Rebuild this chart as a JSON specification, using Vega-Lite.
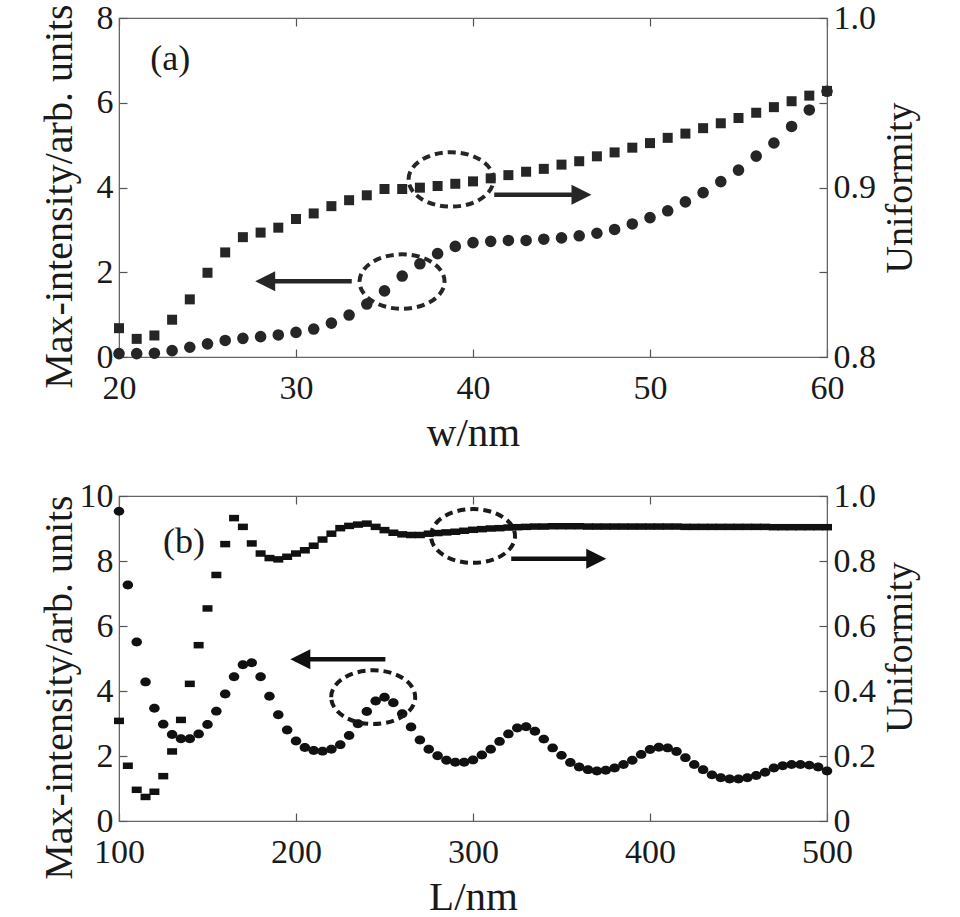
{
  "$schema": "https://vega.github.io/schema/vega-lite/v6.json",
  "background": "white",
  "padding": {"left": 38, "top": 0, "right": 5, "bottom": 0},
  "config": {
    "font": "Liberation Serif",
    "view": {"stroke": "#666", "strokeWidth": 1.2},
    "axis": {"labelFont": "Liberation Serif", "titleFont": "Liberation Serif", "labelFontSize": 34, "titleFontSize": 38, "titleFontWeight": "normal", "labelColor": "#1a1a1a", "titleColor": "#1a1a1a", "grid": false, "tickColor": "#555", "domainColor": "#666", "tickSize": -8, "tickWidth": 1.2, "labelPadding": 14, "labelFlush": false, "labelOverlap": false},
    "axisBottom": {"labelPadding": 22, "titleFontSize": 41, "titlePadding": 8},
    "axisLeft": {"titleFontSize": 40, "minExtent": 40, "titlePadding": 0},
    "axisRight": {"titleFontSize": 38, "minExtent": 50},
    "concat": {"spacing": 24}
  },
  "datasets": {
    "aCircle": [
      {"w": 20, "v": 0.08}, {"w": 21, "v": 0.08}, {"w": 22, "v": 0.09}, {"w": 23, "v": 0.15}, {"w": 24, "v": 0.23},
      {"w": 25, "v": 0.31}, {"w": 26, "v": 0.39}, {"w": 27, "v": 0.44}, {"w": 28, "v": 0.48}, {"w": 29, "v": 0.52},
      {"w": 30, "v": 0.58}, {"w": 31, "v": 0.66}, {"w": 32, "v": 0.8}, {"w": 33, "v": 0.99}, {"w": 34, "v": 1.25},
      {"w": 35, "v": 1.56}, {"w": 36, "v": 1.91}, {"w": 37, "v": 2.2}, {"w": 38, "v": 2.44}, {"w": 39, "v": 2.61},
      {"w": 40, "v": 2.7}, {"w": 41, "v": 2.73}, {"w": 42, "v": 2.75}, {"w": 43, "v": 2.75}, {"w": 44, "v": 2.78},
      {"w": 45, "v": 2.81}, {"w": 46, "v": 2.86}, {"w": 47, "v": 2.92}, {"w": 48, "v": 3.01}, {"w": 49, "v": 3.14},
      {"w": 50, "v": 3.29}, {"w": 51, "v": 3.45}, {"w": 52, "v": 3.66}, {"w": 53, "v": 3.88}, {"w": 54, "v": 4.14},
      {"w": 55, "v": 4.41}, {"w": 56, "v": 4.74}, {"w": 57, "v": 5.05}, {"w": 58, "v": 5.44}, {"w": 59, "v": 5.83},
      {"w": 60, "v": 6.27}
    ],
    "aSquare": [
      {"w": 20, "u": 0.817}, {"w": 21, "u": 0.8107}, {"w": 22, "u": 0.8127}, {"w": 23, "u": 0.822}, {"w": 24, "u": 0.834},
      {"w": 25, "u": 0.8497}, {"w": 26, "u": 0.8617}, {"w": 27, "u": 0.8707}, {"w": 28, "u": 0.8734}, {"w": 29, "u": 0.8763},
      {"w": 30, "u": 0.8814}, {"w": 31, "u": 0.8847}, {"w": 32, "u": 0.889}, {"w": 33, "u": 0.8925}, {"w": 34, "u": 0.8954},
      {"w": 35, "u": 0.8991}, {"w": 36, "u": 0.8991}, {"w": 37, "u": 0.8999}, {"w": 38, "u": 0.9009}, {"w": 39, "u": 0.9022},
      {"w": 40, "u": 0.9036}, {"w": 41, "u": 0.9054}, {"w": 42, "u": 0.9073}, {"w": 43, "u": 0.9093}, {"w": 44, "u": 0.911},
      {"w": 45, "u": 0.9135}, {"w": 46, "u": 0.9155}, {"w": 47, "u": 0.9184}, {"w": 48, "u": 0.9207}, {"w": 49, "u": 0.9235},
      {"w": 50, "u": 0.9262}, {"w": 51, "u": 0.9293}, {"w": 52, "u": 0.9318}, {"w": 53, "u": 0.935}, {"w": 54, "u": 0.9379},
      {"w": 55, "u": 0.941}, {"w": 56, "u": 0.9441}, {"w": 57, "u": 0.9474}, {"w": 58, "u": 0.9509}, {"w": 59, "u": 0.9542},
      {"w": 60, "u": 0.957}
    ],
    "aEllipse": [{"w": 38.76, "v": 4.19}, {"w": 35.99, "v": 1.78}],
    "aArrow": [{"w": 41.2, "w2": 46.13, "v": 3.83, "dir": "right"}, {"w": 33.15, "w2": 28.26, "v": 1.79, "dir": "left"}],
    "aLabel": [{"w": 22.9, "v": 7.03, "t": "(a)"}],
    "bCircle": [
      {"L": 100, "v": 9.53}, {"L": 105, "v": 7.26}, {"L": 110, "v": 5.51}, {"L": 115, "v": 4.28}, {"L": 120, "v": 3.47},
      {"L": 125, "v": 2.98}, {"L": 130, "v": 2.66}, {"L": 135, "v": 2.53}, {"L": 140, "v": 2.53}, {"L": 145, "v": 2.68},
      {"L": 150, "v": 2.97}, {"L": 155, "v": 3.38}, {"L": 160, "v": 3.91}, {"L": 165, "v": 4.44}, {"L": 170, "v": 4.81},
      {"L": 175, "v": 4.87}, {"L": 180, "v": 4.44}, {"L": 185, "v": 3.84}, {"L": 190, "v": 3.27}, {"L": 195, "v": 2.8},
      {"L": 200, "v": 2.46}, {"L": 205, "v": 2.26}, {"L": 210, "v": 2.17}, {"L": 215, "v": 2.15}, {"L": 220, "v": 2.21},
      {"L": 225, "v": 2.35}, {"L": 230, "v": 2.63}, {"L": 235, "v": 2.99}, {"L": 240, "v": 3.37}, {"L": 245, "v": 3.69},
      {"L": 250, "v": 3.81}, {"L": 255, "v": 3.64}, {"L": 260, "v": 3.3}, {"L": 265, "v": 2.89}, {"L": 270, "v": 2.49},
      {"L": 275, "v": 2.21}, {"L": 280, "v": 2.01}, {"L": 285, "v": 1.87}, {"L": 290, "v": 1.81}, {"L": 295, "v": 1.81},
      {"L": 300, "v": 1.88}, {"L": 305, "v": 2.03}, {"L": 310, "v": 2.21}, {"L": 315, "v": 2.45}, {"L": 320, "v": 2.68},
      {"L": 325, "v": 2.86}, {"L": 330, "v": 2.9}, {"L": 335, "v": 2.76}, {"L": 340, "v": 2.52}, {"L": 345, "v": 2.25},
      {"L": 350, "v": 2.02}, {"L": 355, "v": 1.8}, {"L": 360, "v": 1.66}, {"L": 365, "v": 1.58}, {"L": 370, "v": 1.54},
      {"L": 375, "v": 1.56}, {"L": 380, "v": 1.63}, {"L": 385, "v": 1.74}, {"L": 390, "v": 1.87}, {"L": 395, "v": 2.05},
      {"L": 400, "v": 2.2}, {"L": 405, "v": 2.27}, {"L": 410, "v": 2.25}, {"L": 415, "v": 2.14}, {"L": 420, "v": 1.95},
      {"L": 425, "v": 1.74}, {"L": 430, "v": 1.58}, {"L": 435, "v": 1.42}, {"L": 440, "v": 1.33}, {"L": 445, "v": 1.29},
      {"L": 450, "v": 1.29}, {"L": 455, "v": 1.33}, {"L": 460, "v": 1.4}, {"L": 465, "v": 1.5}, {"L": 470, "v": 1.63},
      {"L": 475, "v": 1.7}, {"L": 480, "v": 1.74}, {"L": 485, "v": 1.74}, {"L": 490, "v": 1.72}, {"L": 495, "v": 1.66},
      {"L": 500, "v": 1.54}
    ],
    "bSquare": [
      {"L": 100, "u": 0.308}, {"L": 105, "u": 0.17}, {"L": 110, "u": 0.096}, {"L": 115, "u": 0.074}, {"L": 120, "u": 0.09},
      {"L": 125, "u": 0.138}, {"L": 130, "u": 0.214}, {"L": 135, "u": 0.311}, {"L": 140, "u": 0.422}, {"L": 145, "u": 0.541},
      {"L": 150, "u": 0.654}, {"L": 155, "u": 0.757}, {"L": 160, "u": 0.852}, {"L": 165, "u": 0.932}, {"L": 170, "u": 0.905},
      {"L": 175, "u": 0.854}, {"L": 180, "u": 0.823}, {"L": 185, "u": 0.809}, {"L": 190, "u": 0.805}, {"L": 195, "u": 0.813},
      {"L": 200, "u": 0.823}, {"L": 205, "u": 0.833}, {"L": 210, "u": 0.847}, {"L": 215, "u": 0.866}, {"L": 220, "u": 0.884},
      {"L": 225, "u": 0.901}, {"L": 230, "u": 0.908}, {"L": 235, "u": 0.912}, {"L": 240, "u": 0.915}, {"L": 245, "u": 0.905},
      {"L": 250, "u": 0.895}, {"L": 255, "u": 0.887}, {"L": 260, "u": 0.882}, {"L": 265, "u": 0.88}, {"L": 270, "u": 0.88},
      {"L": 275, "u": 0.884}, {"L": 280, "u": 0.886}, {"L": 285, "u": 0.888}, {"L": 290, "u": 0.89}, {"L": 295, "u": 0.893},
      {"L": 300, "u": 0.896}, {"L": 305, "u": 0.898}, {"L": 310, "u": 0.9}, {"L": 315, "u": 0.901}, {"L": 320, "u": 0.903},
      {"L": 325, "u": 0.904}, {"L": 330, "u": 0.905}, {"L": 335, "u": 0.906}, {"L": 340, "u": 0.906}, {"L": 345, "u": 0.907},
      {"L": 350, "u": 0.907}, {"L": 355, "u": 0.907}, {"L": 360, "u": 0.907}, {"L": 365, "u": 0.906}, {"L": 370, "u": 0.906},
      {"L": 375, "u": 0.906}, {"L": 380, "u": 0.906}, {"L": 385, "u": 0.906}, {"L": 390, "u": 0.906}, {"L": 395, "u": 0.906},
      {"L": 400, "u": 0.906}, {"L": 405, "u": 0.906}, {"L": 410, "u": 0.906}, {"L": 415, "u": 0.906}, {"L": 420, "u": 0.905},
      {"L": 425, "u": 0.905}, {"L": 430, "u": 0.905}, {"L": 435, "u": 0.905}, {"L": 440, "u": 0.905}, {"L": 445, "u": 0.905},
      {"L": 450, "u": 0.905}, {"L": 455, "u": 0.905}, {"L": 460, "u": 0.905}, {"L": 465, "u": 0.905}, {"L": 470, "u": 0.904},
      {"L": 475, "u": 0.904}, {"L": 480, "u": 0.904}, {"L": 485, "u": 0.904}, {"L": 490, "u": 0.904}, {"L": 495, "u": 0.904},
      {"L": 500, "u": 0.904}
    ],
    "bEllipse": [{"L": 300, "v": 8.77}, {"L": 243.6, "v": 3.81}],
    "bArrow": [{"L": 321.6, "L2": 369.65, "v": 8.07, "dir": "right"}, {"L": 250.5, "L2": 202.45, "v": 4.98, "dir": "left"}],
    "bLabel": [{"L": 136.7, "v": 8.58, "t": "(b)"}]
  },
  "vconcat": [
    {
      "width": 708,
      "height": 339,
      "layer": [
        {
          "layer": [
            {
              "data": {"name": "aCircle"},
              "mark": {"type": "point", "shape": "circle", "filled": true, "size": 135, "color": "#262626", "opacity": 1},
              "encoding": {
                "x": {"field": "w", "type": "quantitative", "scale": {"domain": [20, 60], "nice": false, "zero": false}, "axis": {"title": "w/nm", "values": [20, 30, 40, 50, 60]}},
                "y": {"field": "v", "type": "quantitative", "scale": {"domain": [0, 8], "nice": false}, "axis": {"title": "Max-intensity/arb. units", "values": [0, 2, 4, 6, 8], "titleY": 178}}
              }
            },
            {
              "data": {"name": "aEllipse"},
              "mark": {"type": "point", "shape": "M-1,0C-1,-0.3535 -0.5523,-0.64 0,-0.64C0.5523,-0.64 1,-0.3535 1,0C1,0.3535 0.5523,0.64 0,0.64C-0.5523,0.64 -1,0.3535 -1,0Z", "filled": false, "size": 7225, "color": "#262626", "strokeWidth": 4, "strokeDash": [8, 5], "opacity": 1},
              "encoding": {
                "x": {"field": "w", "type": "quantitative", "scale": {"domain": [20, 60], "nice": false, "zero": false}, "axis": {"title": "w/nm", "values": [20, 30, 40, 50, 60]}},
                "y": {"field": "v", "type": "quantitative", "scale": {"domain": [0, 8], "nice": false}, "axis": {"title": "Max-intensity/arb. units", "values": [0, 2, 4, 6, 8], "titleY": 178}}
              }
            },
            {
              "data": {"name": "aArrow"},
              "mark": {"type": "rule", "color": "#262626", "strokeWidth": 4.5},
              "encoding": {
                "x": {"field": "w", "type": "quantitative", "scale": {"domain": [20, 60], "nice": false, "zero": false}, "axis": {"title": "w/nm", "values": [20, 30, 40, 50, 60]}},
                "x2": {"field": "w2"},
                "y": {"field": "v", "type": "quantitative", "scale": {"domain": [0, 8], "nice": false}, "axis": {"title": "Max-intensity/arb. units", "values": [0, 2, 4, 6, 8], "titleY": 178}}
              }
            },
            {
              "data": {"name": "aArrow"},
              "mark": {"type": "point", "filled": true, "size": 400, "color": "#262626", "opacity": 1},
              "encoding": {
                "x": {"field": "w2", "type": "quantitative", "scale": {"domain": [20, 60], "nice": false, "zero": false}, "axis": {"title": "w/nm", "values": [20, 30, 40, 50, 60]}},
                "y": {"field": "v", "type": "quantitative", "scale": {"domain": [0, 8], "nice": false}, "axis": {"title": "Max-intensity/arb. units", "values": [0, 2, 4, 6, 8], "titleY": 178}},
                "shape": {"field": "dir", "type": "nominal", "scale": {"domain": ["right", "left"], "range": ["M-1,-1L1,0L-1,1Z", "M1,-1L-1,0L1,1Z"]}, "legend": null}
              }
            },
            {
              "data": {"name": "aLabel"},
              "mark": {"type": "text", "fontSize": 36, "font": "Liberation Serif", "color": "#1a1a1a"},
              "encoding": {
                "x": {"field": "w", "type": "quantitative", "scale": {"domain": [20, 60], "nice": false, "zero": false}, "axis": {"title": "w/nm", "values": [20, 30, 40, 50, 60]}},
                "y": {"field": "v", "type": "quantitative", "scale": {"domain": [0, 8], "nice": false}, "axis": {"title": "Max-intensity/arb. units", "values": [0, 2, 4, 6, 8], "titleY": 178}},
                "text": {"field": "t"}
              }
            }
          ]
        },
        {
          "data": {"name": "aSquare"},
          "mark": {"type": "point", "shape": "square", "filled": true, "size": 100, "color": "#262626", "opacity": 1},
          "encoding": {
            "x": {"field": "w", "type": "quantitative", "scale": {"domain": [20, 60], "nice": false, "zero": false}, "axis": {"orient": "top", "labels": false, "title": null, "values": [20, 30, 40, 50, 60]}},
            "y": {"field": "u", "type": "quantitative", "scale": {"domain": [0.8, 1.0], "nice": false, "zero": false}, "axis": {"orient": "right", "title": "Uniformity", "titleAngle": -90, "titleBaseline": "top", "values": [0.8, 0.85, 0.9, 0.95, 1.0], "labelExpr": "abs(datum.value*10 - round(datum.value*10)) > 0.01 ? '' : format(datum.value, '.1f')"}}
          }
        }
      ],
      "resolve": {"scale": {"y": "independent"}, "axis": {"x": "independent"}}
    },
    {
      "width": 708,
      "height": 325,
      "layer": [
        {
          "layer": [
            {
              "data": {"name": "bCircle"},
              "mark": {"type": "point", "shape": "M-1,0C-1,-0.4694 -0.5523,-0.85 0,-0.85C0.5523,-0.85 1,-0.4694 1,0C1,0.4694 0.5523,0.85 0,0.85C-0.5523,0.85 -1,0.4694 -1,0Z", "filled": true, "size": 110, "color": "#111111", "opacity": 1},
              "encoding": {
                "x": {"field": "L", "type": "quantitative", "scale": {"domain": [100, 500], "nice": false, "zero": false}, "axis": {"title": "L/nm", "values": [100, 200, 300, 400, 500]}},
                "y": {"field": "v", "type": "quantitative", "scale": {"domain": [0, 10], "nice": false}, "axis": {"title": "Max-intensity/arb. units", "values": [0, 2, 4, 6, 8, 10], "titleY": 191}}
              }
            },
            {
              "data": {"name": "bEllipse"},
              "mark": {"type": "point", "shape": "M-1,0C-1,-0.3535 -0.5523,-0.64 0,-0.64C0.5523,-0.64 1,-0.3535 1,0C1,0.3535 0.5523,0.64 0,0.64C-0.5523,0.64 -1,0.3535 -1,0Z", "filled": false, "size": 7056, "color": "#1a1a1a", "strokeWidth": 4, "strokeDash": [8, 5], "opacity": 1},
              "encoding": {
                "x": {"field": "L", "type": "quantitative", "scale": {"domain": [100, 500], "nice": false, "zero": false}, "axis": {"title": "L/nm", "values": [100, 200, 300, 400, 500]}},
                "y": {"field": "v", "type": "quantitative", "scale": {"domain": [0, 10], "nice": false}, "axis": {"title": "Max-intensity/arb. units", "values": [0, 2, 4, 6, 8, 10], "titleY": 191}}
              }
            },
            {
              "data": {"name": "bArrow"},
              "mark": {"type": "rule", "color": "#111111", "strokeWidth": 4.5},
              "encoding": {
                "x": {"field": "L", "type": "quantitative", "scale": {"domain": [100, 500], "nice": false, "zero": false}, "axis": {"title": "L/nm", "values": [100, 200, 300, 400, 500]}},
                "x2": {"field": "L2"},
                "y": {"field": "v", "type": "quantitative", "scale": {"domain": [0, 10], "nice": false}, "axis": {"title": "Max-intensity/arb. units", "values": [0, 2, 4, 6, 8, 10], "titleY": 191}}
              }
            },
            {
              "data": {"name": "bArrow"},
              "mark": {"type": "point", "filled": true, "size": 400, "color": "#111111", "opacity": 1},
              "encoding": {
                "x": {"field": "L2", "type": "quantitative", "scale": {"domain": [100, 500], "nice": false, "zero": false}, "axis": {"title": "L/nm", "values": [100, 200, 300, 400, 500]}},
                "y": {"field": "v", "type": "quantitative", "scale": {"domain": [0, 10], "nice": false}, "axis": {"title": "Max-intensity/arb. units", "values": [0, 2, 4, 6, 8, 10], "titleY": 191}},
                "shape": {"field": "dir", "type": "nominal", "scale": {"domain": ["right", "left"], "range": ["M-1,-1L1,0L-1,1Z", "M1,-1L-1,0L1,1Z"]}, "legend": null}
              }
            },
            {
              "data": {"name": "bLabel"},
              "mark": {"type": "text", "fontSize": 36, "font": "Liberation Serif", "color": "#1a1a1a"},
              "encoding": {
                "x": {"field": "L", "type": "quantitative", "scale": {"domain": [100, 500], "nice": false, "zero": false}, "axis": {"title": "L/nm", "values": [100, 200, 300, 400, 500]}},
                "y": {"field": "v", "type": "quantitative", "scale": {"domain": [0, 10], "nice": false}, "axis": {"title": "Max-intensity/arb. units", "values": [0, 2, 4, 6, 8, 10], "titleY": 191}},
                "text": {"field": "t"}
              }
            }
          ]
        },
        {
          "data": {"name": "bSquare"},
          "mark": {"type": "point", "shape": "M-1,-0.65L1,-0.65L1,0.65L-1,0.65Z", "filled": true, "size": 100, "color": "#111111", "opacity": 1},
          "encoding": {
            "x": {"field": "L", "type": "quantitative", "scale": {"domain": [100, 500], "nice": false, "zero": false}, "axis": {"orient": "top", "labels": false, "title": null, "values": [100, 200, 300, 400, 500]}},
            "y": {"field": "u", "type": "quantitative", "scale": {"domain": [0, 1], "nice": false, "zero": false}, "axis": {"orient": "right", "title": "Uniformity", "titleAngle": -90, "titleBaseline": "top", "titleY": 151, "values": [0, 0.2, 0.4, 0.6, 0.8, 1.0], "labelExpr": "datum.value == 0 ? '0' : format(datum.value, '.1f')"}}
          }
        }
      ],
      "resolve": {"scale": {"y": "independent"}, "axis": {"x": "independent"}}
    }
  ]
}
